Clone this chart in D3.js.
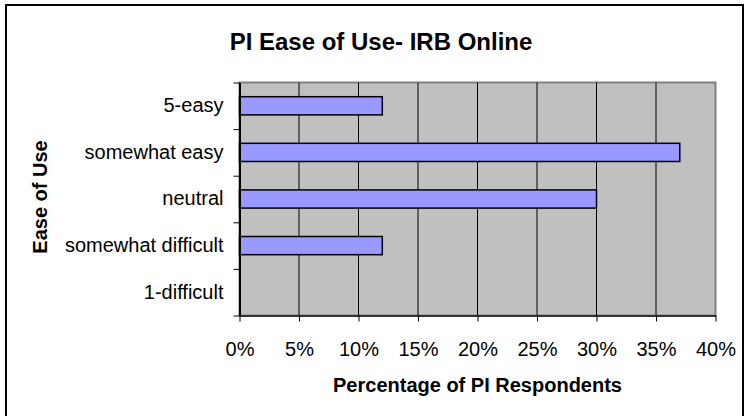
<!DOCTYPE html>
<html>
<head>
<meta charset="utf-8">
<script src="https://cdn.jsdelivr.net/npm/d3@7"></script>
<style>
  body { margin: 0; background: #fff; }
  svg { display: block; font-family: "Liberation Sans", Arial, sans-serif; }
</style>
</head>
<body>
<div id="chart"></div>
<script>
// data
const categories = ["5-easy", "somewhat easy", "neutral", "somewhat difficult", "1-difficult"];
const values = [0.12, 0.37, 0.30, 0.12, 0];
const xTicks = [0, 0.05, 0.10, 0.15, 0.20, 0.25, 0.30, 0.35, 0.40];

const width = 744, height = 416;
const plot = { left: 239.5, right: 715.5, top: 82.5, bottom: 315.5 };

const svg = d3.select("#chart")
  .append("svg")
  .attr("width", width)
  .attr("height", height);

// outer frame (clipped at the bottom like the source)
svg.append("rect")
  .attr("x", 6).attr("y", 5)
  .attr("width", 737).attr("height", 430)
  .attr("fill", "none")
  .attr("stroke", "#000")
  .attr("stroke-width", 2);

const xScale = d3.scaleLinear()
  .domain([0, 0.4])
  .range([plot.left, plot.right]);

const yScale = d3.scaleBand()
  .domain(categories)
  .range([plot.top, plot.bottom])
  .paddingInner(0.61)
  .paddingOuter(0.305);

// boundaries between categories, for the y ticks
const yEdges = d3.scaleLinear()
  .domain([0, categories.length])
  .range([plot.top, plot.bottom]);

// plot background
svg.append("rect")
  .attr("x", plot.left).attr("y", plot.top)
  .attr("width", plot.right - plot.left)
  .attr("height", plot.bottom - plot.top)
  .attr("fill", "#c0c0c0")
  .attr("stroke", "#808080")
  .attr("stroke-width", 2);

// vertical gridlines
svg.append("g")
  .selectAll("line")
  .data(xTicks.filter((d) => d > 0 && d < 0.4))
  .enter()
  .append("line")
  .attr("x1", (d) => xScale(d))
  .attr("x2", (d) => xScale(d))
  .attr("y1", plot.top)
  .attr("y2", plot.bottom)
  .attr("stroke", "#000")
  .attr("stroke-width", 1);

// bars
svg.append("g")
  .selectAll("rect")
  .data(categories.filter((c, i) => values[i] > 0))
  .enter()
  .append("rect")
  .attr("x", xScale(0))
  .attr("y", (d) => yScale(d))
  .attr("width", (d) => xScale(values[categories.indexOf(d)]) - xScale(0))
  .attr("height", yScale.bandwidth())
  .attr("fill", "#9999ff")
  .attr("stroke", "#000")
  .attr("stroke-width", 1.5);

// y axis: tick marks at the band edges
svg.append("g")
  .attr("transform", `translate(${plot.left},0)`)
  .call(d3.axisLeft(yEdges).tickValues(d3.range(categories.length + 1)).tickSize(6).tickSizeOuter(0).tickFormat(""))
  .call((g) => g.selectAll("line").attr("stroke", "#000"))
  .call((g) => g.select(".domain").attr("stroke", "#000").attr("stroke-width", 2));

// y axis: category labels
svg.append("g")
  .attr("transform", `translate(${plot.left},0)`)
  .call(d3.axisLeft(yScale).tickSize(0).tickPadding(16))
  .call((g) => g.select(".domain").remove())
  .call((g) => g.selectAll("text")
    .attr("font-size", 20)
    .attr("font-family", "Liberation Sans, Arial, sans-serif")
    .attr("fill", "#000"));

// x axis
svg.append("g")
  .attr("transform", `translate(0,${plot.bottom})`)
  .call(d3.axisBottom(xScale).tickValues(xTicks).tickSize(6).tickSizeOuter(0).tickPadding(20).tickFormat(d3.format(".0%")))
  .call((g) => g.select(".domain").attr("stroke", "#333").attr("stroke-width", 2))
  .call((g) => g.selectAll("line").attr("stroke", "#000"))
  .call((g) => g.selectAll("text")
    .attr("font-size", 20)
    .attr("font-family", "Liberation Sans, Arial, sans-serif")
    .attr("fill", "#000"));

// titles
svg.append("text")
  .attr("x", 381)
  .attr("y", 50)
  .attr("text-anchor", "middle")
  .attr("font-size", 24)
  .attr("font-weight", "bold")
  .text("PI Ease of Use- IRB Online");

svg.append("text")
  .attr("x", (plot.left + plot.right) / 2)
  .attr("y", 392)
  .attr("text-anchor", "middle")
  .attr("font-size", 20)
  .attr("font-weight", "bold")
  .text("Percentage of PI Respondents");

svg.append("text")
  .attr("transform", `translate(47,${(plot.top + plot.bottom) / 2 - 2}) rotate(-90)`)
  .attr("text-anchor", "middle")
  .attr("font-size", 20)
  .attr("font-weight", "bold")
  .text("Ease of Use");
</script>
</body>
</html>
